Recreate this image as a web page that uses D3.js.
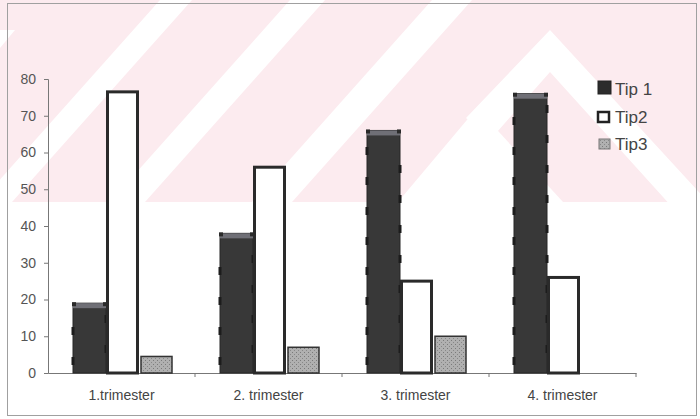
<!DOCTYPE html>
<html>
<head>
<meta charset="utf-8">
<script src="https://cdn.jsdelivr.net/npm/d3@7"></script>
<style>
body{margin:0;background:#fff;}
svg{display:block;font-family:"Liberation Sans",Arial,sans-serif;}
</style>
</head>
<body>
<svg id="chart" width="700" height="419"></svg>
<script>
'use strict'
// values
var categories = ['1.trimester', '2. trimester', '3. trimester', '4. trimester'];
var seriesNames = ['Tip 1', 'Tip2', 'Tip3'];
var tip1 = [19, 38, 66, 76];
var tip2 = [76.5, 56, 25, 26];
var tip3 = [4.5, 7, 10, 0];
var yTicks = [0, 10, 20, 30, 40, 50, 60, 70, 80];

var svg = d3.select('#chart');
var W = 700, H = 419;

// pink watermark band behind the chart (from the scanned page)
var wm = svg.append('g').attr('class', 'watermark');
wm.append('rect').attr('x', 0).attr('y', 0).attr('width', W).attr('height', 202).attr('fill', '#fcebef');
var clip = svg.append('clipPath').attr('id', 'wmclip');
clip.append('rect').attr('x', 0).attr('y', 0).attr('width', W).attr('height', 202);
var wmg = wm.append('g').attr('clip-path', 'url(#wmclip)');
[
	'M160,0 L192,0 L12,202 L-20,202 Z',
	'M290,0 L325,0 L145,202 L110,202 Z',
	'M432,0 L472,0 L292,202 L252,202 Z',
	'M477,108 L563,202 L398,202 Z',
	'M550,30 L720,215 L720,260 L550,72 L490,140 L466,118 Z',
	'M-10,30 L15,30 L-10,60 Z'
].forEach(function(d){ wmg.append('path').attr('d', d).attr('fill', '#fff'); });

// page frame
svg.append('rect').attr('x', 7.5).attr('y', 3.5).attr('width', 689).attr('height', 412)
	.attr('fill', 'none').attr('stroke', '#a0a0a0').attr('stroke-width', 1);

var x0 = d3.scaleBand().domain(categories).range([48, 636]);
var x1 = d3.scaleBand().domain(seriesNames).range([0, 99]);
var y = d3.scaleLinear().domain([0, 80]).range([373, 79]);
var barOffset = (x0.bandwidth() - 99) / 2 + 1;

// axes
var yAxis = svg.append('g').attr('transform', 'translate(48,0)')
	.call(d3.axisLeft(y).tickValues(yTicks).tickSize(4).tickPadding(8));
yAxis.select('.domain').attr('stroke', '#777');
yAxis.selectAll('.tick line').attr('stroke', '#777');
yAxis.selectAll('.tick text').attr('fill', '#555').attr('font-size', 14).attr('font-family', '"Liberation Sans",Arial,sans-serif');

var xAxis = svg.append('g').attr('transform', 'translate(0,373)')
	.call(d3.axisBottom(x0).tickSize(0).tickPadding(17));
xAxis.select('.domain').attr('stroke', '#777');
xAxis.selectAll('.tick text').attr('fill', '#444').attr('font-size', 14).attr('font-family', '"Liberation Sans",Arial,sans-serif');
// boundary ticks between categories
svg.append('g').selectAll('line').data(categories).enter().append('line')
	.attr('x1', function(d){ return x0(d) + x0.bandwidth(); })
	.attr('x2', function(d){ return x0(d) + x0.bandwidth(); })
	.attr('y1', 373).attr('y2', 377).attr('stroke', '#777');

var rows = categories.map(function(c, i){
	return {cat: c, values: [tip1[i], tip2[i], tip3[i]]};
});

var bars = svg.append('g').selectAll('g').data(rows).enter().append('g')
	.attr('transform', function(d){ return 'translate(' + (x0(d.cat) + barOffset) + ',0)'; });

// Tip 1: dark bars with little marks along the edges
bars.each(function(d){
	var g = d3.select(this), v = d.values[0];
	if(!v) return;
	var bx = x1('Tip 1'), bw = x1.bandwidth(), top = y(v);
	g.append('rect').attr('x', bx).attr('y', top).attr('width', bw).attr('height', y(0) - top)
		.attr('fill', '#383838').attr('stroke', '#262626').attr('stroke-width', 1);
	g.append('rect').attr('x', bx).attr('y', top).attr('width', bw).attr('height', 5).attr('fill', '#6f6f76');
	g.append('rect').attr('x', bx - 1).attr('y', top - 1).attr('width', 4).attr('height', 4).attr('fill', '#2a2a2a');
	g.append('rect').attr('x', bx + bw - 3).attr('y', top - 1).attr('width', 4).attr('height', 4).attr('fill', '#2a2a2a');
	var k;
	for(k = y(0) - 12; k > top + 10; k -= 30){
		g.append('rect').attr('x', bx - 1.5).attr('y', k - 4).attr('width', 3).attr('height', 8).attr('fill', '#1c1c1c');
	}
	for(k = y(0) - 24; k > top + 10; k -= 30){
		g.append('rect').attr('x', bx + bw - 1.5).attr('y', k - 4).attr('width', 3).attr('height', 8).attr('fill', '#1c1c1c');
	}
});

// Tip2: white bars with thick outline
bars.append('rect')
	.attr('x', x1('Tip2') + 1.5)
	.attr('y', function(d){ return y(d.values[1]); })
	.attr('width', x1.bandwidth() - 3)
	.attr('height', function(d){ return y(0) - y(d.values[1]); })
	.attr('fill', '#fff').attr('stroke', '#2a2a2a').attr('stroke-width', 3);

// Tip3: grey stippled bars
var defs = svg.append('defs');
var pat = defs.append('pattern').attr('id', 'stip').attr('width', 4).attr('height', 4).attr('patternUnits', 'userSpaceOnUse');
pat.append('rect').attr('width', 4).attr('height', 4).attr('fill', '#b0b0b0');
pat.append('rect').attr('x', 0).attr('y', 0).attr('width', 1).attr('height', 1).attr('fill', '#7a7a7a');
pat.append('rect').attr('x', 2).attr('y', 2).attr('width', 1).attr('height', 1).attr('fill', '#888');

bars.filter(function(d){ return d.values[2] > 0; }).append('rect')
	.attr('x', x1('Tip3') + 2)
	.attr('y', function(d){ return y(d.values[2]); })
	.attr('width', x1.bandwidth() - 2)
	.attr('height', function(d){ return y(0) - y(d.values[2]); })
	.attr('fill', 'url(#stip)').attr('stroke', '#333').attr('stroke-width', 1.5);

// legend
var legend = svg.append('g').attr('transform', 'translate(598,0)');
var legendY = [95, 123, 150];
var item = legend.selectAll('g').data(seriesNames).enter().append('g')
	.attr('transform', function(d, i){ return 'translate(0,' + legendY[i] + ')'; });
item.append('rect')
	.attr('x', function(d, i){ return i == 2 ? 1 : 0; })
	.attr('y', function(d, i){ return i == 0 ? -14 : -11; })
	.attr('width', function(d, i){ return i == 0 ? 13 : 11; })
	.attr('height', function(d, i){ return i == 0 ? 13 : 10; })
	.attr('fill', function(d, i){ return ['#2c2c2c', '#fff', 'url(#stip)'][i]; })
	.attr('stroke', function(d, i){ return ['#222', '#222', '#777'][i]; })
	.attr('stroke-width', function(d, i){ return [1, 2.5, 1][i]; });
item.append('text').attr('x', 17).attr('y', 0)
	.attr('font-size', 17).attr('fill', '#444')
	.text(function(d){ return d; });
</script>
</body>
</html>
